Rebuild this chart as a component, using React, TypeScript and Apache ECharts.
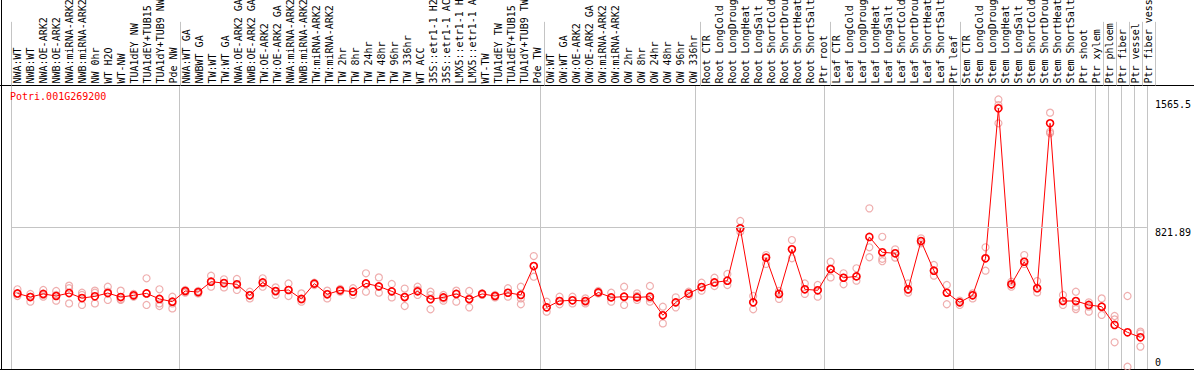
import React, { useEffect, useRef } from "react";
import * as echarts from "echarts";

const geneId = "Potri.001G269200";

const categories: string[] = [
  "NWA:WT", "NWB:WT", "NWA:OE-ARK2", "NWB:OE-ARK2", "NWA:miRNA-ARK2", "NWB:miRNA-ARK2", "NW 0hr", "WT H2O", "WT-NW", "TUA1dEY NW", "TUA1dEY+TUB15", "TUA1dY+TUB9 NW", "Pde NW",
  "NWA:WT GA", "NWBWT GA", "TW:WT", "TW:WT GA", "NWA:OE-ARK2 GA", "NWB:OE-ARK2 GA", "TW:OE-ARK2", "TW:OE-ARK2 GA", "NWA:miRNA-ARK2 GA", "NWB:miRNA-ARK2 GA", "TW:miRNA-ARK2", "TW:miRNA-ARK2",
  "TW 2hr", "TW 8hr", "TW 24hr", "TW 48hr", "TW 96hr", "TW 336hr", "WT ACC", "35S::etr1-1 H2O", "35S::etr1-1 ACC", "LMX5::etr1-1 H2O", "LMX5::etr1-1 ACC", "WT-TW", "TUA1dEY TW", "TUA1dEY+TUB15", "TUA1dY+TUB9 TW", "Pde TW",
  "OW:WT", "OW:WT GA", "OW:OE-ARK2", "OW:OE-ARK2 GA", "OW:miRNA-ARK2", "OW:miRNA-ARK2", "OW 2hr", "OW 8hr", "OW 24hr", "OW 48hr", "OW 96hr", "OW 336hr",
  "Root CTR", "Root LongCold", "Root LongDrought", "Root LongHeat", "Root LongSalt", "Root ShortCold", "Root ShortDrought", "Root ShortHeat", "Root ShortSalt", "Ptr root",
  "Leaf CTR", "Leaf LongCold", "Leaf LongDrought", "Leaf LongHeat", "Leaf LongSalt", "Leaf ShortCold", "Leaf ShortDrought", "Leaf ShortHeat", "Leaf ShortSalt", "Ptr leaf",
  "Stem CTR", "Stem LongCold", "Stem LongDrought", "Stem LongHeat", "Stem LongSalt", "Stem ShortCold", "Stem ShortDrought", "Stem ShortHeat", "Stem ShortSalt", "Ptr shoot", "Ptr xylem",
  "Ptr phloem", "Ptr fiber", "Ptr vessel", "Ptr fiber vessel",
];

// index of the first category of each group (plus the end)
const groupStarts = [0, 13, 41, 53, 63, 73, 84, 85, 86, 87, 88];

const means: number[] = [
  439, 418, 436, 424, 441, 412, 422, 441, 418, 428, 439, 407, 391,
  453, 447, 507, 499, 492, 428, 503, 453, 459, 407, 496, 434, 457, 449, 497, 480, 451, 418, 451, 405, 416, 436, 405, 436, 424, 443, 430, 598,
  358, 395, 399, 395, 445, 416, 420, 416, 420, 312, 387, 438,
  476, 503, 513, 817, 387, 647, 436, 695, 463, 457,
  581, 530, 538, 767, 678, 672, 463, 743, 571, 443,
  387, 428, 643, 1514, 492, 623, 469, 1427, 395, 395, 372,
  362, 256, 213, 184,
];

const replicates: number[][] = [
  [463, 436, 424], [436, 391, 420], [459, 430, 420], [453, 397, 430], [484, 469, 381], [443, 430, 372], [455, 443, 381],
  [478, 449, 401], [455, 405, 401], [436, 424, 420], [527, 439, 372], [463, 407, 381, 366], [420, 381, 352],
  [459, 449, 443], [453, 443, 439], [542, 507, 478], [521, 497, 474], [523, 488, 459], [449, 430, 410], [527, 497, 478],
  [474, 449, 430], [497, 459, 424], [439, 405, 391], [501, 494, 488], [455, 436, 410], [465, 457, 449], [469, 449, 430],
  [556, 497, 449], [532, 478, 443], [494, 449, 416], [467, 416, 366], [478, 459, 430], [449, 430, 347], [430, 410, 397],
  [455, 436, 391], [453, 410, 358], [439, 436, 430], [430, 424, 416], [469, 443, 420], [478, 430, 410, 376], [656, 598, 536],
  [391, 358, 333], [420, 395, 376], [420, 399, 381], [410, 391, 381], [453, 445, 439], [443, 416, 391], [478, 420, 372],
  [439, 424, 401], [482, 410, 391], [362, 312, 265], [416, 387, 358], [449, 438, 424],
  [501, 476, 455], [530, 503, 482], [552, 513, 488], [860, 817, 798], [424, 387, 347], [662, 647, 610], [453, 436, 407],
  [749, 695, 643], [497, 463, 436], [488, 457, 420],
  [623, 581, 532], [556, 530, 492], [585, 538, 513], [933, 707, 649], [768, 640, 626], [695, 672, 647], [497, 459, 443],
  [759, 743, 730], [604, 571, 542], [488, 443, 376],
  [397, 387, 372], [439, 428, 410], [707, 643, 571], [1565.5, 1533, 1427], [507, 492, 478], [662, 623, 610], [511, 469, 445],
  [1489, 1378, 1369], [430, 395, 372], [449, 362, 348], [387, 362, 333],
  [410, 362, 314], [308, 288, 155], [424, 13], [217, 207, 130],
];

const yMax = 1643.78;
const yMid = 821.89;
const yTop = 1565.5;
const yTickValues = [0, yMid, yTop];

export default function App() {
  const ref = useRef<HTMLDivElement>(null);
  useEffect(() => {
    document.body.style.margin = "0";
    const chart = echarts.init(ref.current!, null, { renderer: "svg" });
    const mono = "DejaVu Sans Mono";
    const gray = "#c4c4c4";
    const splitInterval = (idx: number) => groupStarts.includes(idx);
    const repData = replicates.flatMap((vals, i) => vals.map((v) => [i, v]));
    chart.setOption({
      animation: false,
      title: {
        text: geneId,
        left: 10,
        top: 91,
        padding: 0,
        textStyle: { color: "#ff0000", fontFamily: mono, fontSize: 10, fontWeight: "normal" },
      },
      grid: [
        { left: 11, right: 39, top: 0, height: 85.5 },
        { left: 11, right: 39, top: 86, height: 283 },
      ],
      xAxis: [
        {
          type: "category",
          gridIndex: 0,
          data: categories,
          position: "bottom",
          axisLine: { show: false },
          axisTick: { show: false },
          axisLabel: { inside: true, rotate: 90, interval: 0, margin: 2, fontFamily: mono, fontSize: 10, color: "#000" },
          splitLine: { show: true, interval: splitInterval, lineStyle: { color: gray, width: 1 } },
        },
        {
          type: "category",
          gridIndex: 1,
          data: categories,
          axisLine: { show: false },
          axisTick: { show: false },
          axisLabel: { show: false },
          splitLine: { show: true, interval: splitInterval, lineStyle: { color: gray, width: 1 } },
        },
      ],
      yAxis: [
        { type: "value", gridIndex: 0, show: false, min: 0, max: 1 },
        {
          type: "value",
          gridIndex: 1,
          min: 0,
          max: yMax,
          position: "right",
          axisLine: { show: false },
          axisTick: { show: false },
          splitLine: { show: false },
          axisLabel: {
            customValues: yTickValues,
            margin: 8,
            align: "left",
            fontFamily: mono,
            fontSize: 10,
            color: "#000",
            formatter: (v: number) => (v === 0 ? "{lo|0}" : "{hi|" + String(v) + "}"),
            rich: {
              hi: { fontFamily: mono, fontSize: 10, color: "#000", padding: [10, 0, 0, 0] },
              lo: { fontFamily: mono, fontSize: 10, color: "#000", padding: [0, 0, 14, 0] },
            },
          },
        },
      ],
      graphic: [
        { type: "line", shape: { x1: 1.5, y1: 0, x2: 1.5, y2: 370 }, style: { stroke: "#000", lineWidth: 1 } },
        { type: "line", shape: { x1: 0, y1: 85.5, x2: 1194, y2: 85.5 }, style: { stroke: "#000", lineWidth: 1 } },
        { type: "line", shape: { x1: 0, y1: 369.5, x2: 1194, y2: 369.5 }, style: { stroke: "#000", lineWidth: 1 } },
      ],
      series: [
        {
          type: "scatter",
          xAxisIndex: 1,
          yAxisIndex: 1,
          data: repData,
          symbol: "circle",
          symbolSize: 7,
          itemStyle: { color: "rgba(0,0,0,0)", borderColor: "#eb9a9a", borderWidth: 1.2 },
          z: 2,
        },
        {
          type: "line",
          xAxisIndex: 1,
          yAxisIndex: 1,
          data: means,
          symbol: "circle",
          symbolSize: 7,
          lineStyle: { color: "#ff0000", width: 1 },
          itemStyle: { color: "rgba(0,0,0,0)", borderColor: "#ff0000", borderWidth: 1.6 },
          z: 3,
          markLine: {
            silent: true,
            symbol: "none",
            label: { show: false },
            lineStyle: { color: gray, type: "solid", width: 1 },
            data: [{ yAxis: yMid }],
          },
        },
      ],
    });
    return () => chart.dispose();
  }, []);
  return <div ref={ref} style={{ width: 1194, height: 370 }} />;
}
